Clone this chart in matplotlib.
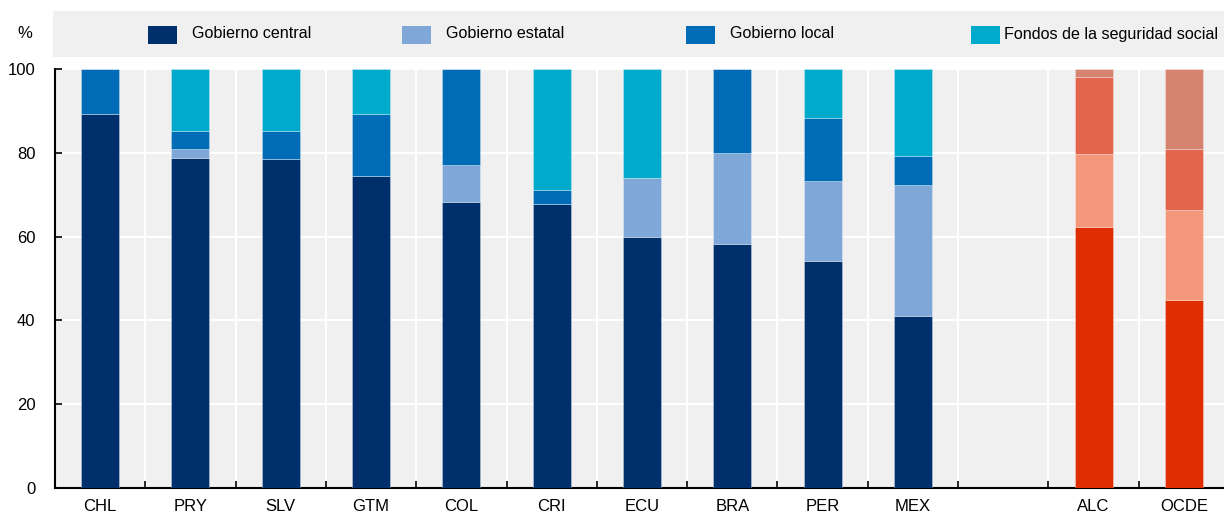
import matplotlib
matplotlib.use("Agg")
import matplotlib.pyplot as plt
from matplotlib.patches import Rectangle
import numpy as np

plt.rcParams['font.family'] = ['Liberation Sans Narrow', 'Liberation Sans', 'DejaVu Sans']

categories = ["CHL", "PRY", "SLV", "GTM", "COL", "CRI", "ECU", "BRA", "PER", "MEX", "", "ALC", "OCDE"]
series_names = ["Gobierno central", "Gobierno estatal", "Gobierno local", "Fondos de la seguridad social"]
central = [89.3, 78.8, 78.6, 74.5, 68.3, 67.8, 59.9, 58.2, 54.2, 41.1, 0, 62.3, 44.9]
estatal = [0.0, 2.1, 0.0, 0.0, 8.8, 0.0, 14.1, 21.8, 19.1, 31.2, 0, 17.4, 21.4]
local = [10.7, 4.3, 6.6, 14.8, 22.9, 3.3, 0.0, 20.0, 15.0, 6.9, 0, 18.4, 14.6]
seguridad = [0.0, 14.8, 14.8, 10.7, 0.0, 28.9, 26.0, 0.0, 11.7, 20.8, 0, 1.9, 19.1]
yticks = [0, 20, 40, 60, 80, 100]

country_colors = ["#00306C", "#7FA8D9", "#006BB6", "#00AACC"]
agg_colors = ["#DE2D00", "#F5977A", "#E3654B", "#D5836F"]
aggregates = {"ALC", "OCDE"}

fig = plt.figure(figsize=(12.24, 5.12), dpi=100)
ax = fig.add_axes([55/1224, 24/512, 1174/1224, 419/512])
ax.set_facecolor("#F0F0F0")

x = np.arange(len(categories))
data = [central, estatal, local, seguridad]
bottom = np.zeros(len(categories))
for k, vals in enumerate(data):
    vals = np.array(vals, dtype=float)
    cols = [agg_colors[k] if c in aggregates else country_colors[k] for c in categories]
    ax.bar(x, vals, width=0.42, bottom=bottom, color=cols, edgecolor=(1, 1, 1, 0.35),
           linewidth=0.6, zorder=3)
    bottom += vals

ax.set_xlim(-0.5, len(categories) - 0.5)
ax.set_ylim(0, 100)
ax.set_xticks(x)
ax.set_xticklabels(categories, fontsize=12)
ax.set_xticks(np.arange(-0.5, len(categories), 1.0), minor=True)
ax.tick_params(axis='x', which='major', length=0, pad=8)
ax.tick_params(axis='x', which='minor', direction='in', length=5, width=1.2, color='black')
ax.set_yticks(yticks)
ax.set_yticklabels([str(v) for v in yticks], fontsize=12)
ax.tick_params(axis='y', direction='in', length=5, width=1.2, pad=14)
ax.grid(axis='x', which='minor', color='white', linewidth=1.5, zorder=1)
ax.grid(axis='y', which='major', color='white', linewidth=1.5, zorder=1)
ax.set_axisbelow(True)
for s in ["top", "right"]:
    ax.spines[s].set_visible(False)
for s in ["left", "bottom"]:
    ax.spines[s].set_color("black")
    ax.spines[s].set_linewidth(1.5)

# Legend band
W, H = 1224, 512
fig.patches.append(Rectangle((53/W, (H-57)/H), (W-53)/W, 46/H, transform=fig.transFigure,
                             facecolor="#F0F0F0", edgecolor="none", zorder=0))
patch_x = [148, 402, 686, 971]
text_x = [192, 446, 730, 1004]
for k in range(4):
    fig.patches.append(Rectangle((patch_x[k]/W, (H-44)/H), 29/W, 18/H, transform=fig.transFigure,
                                 facecolor=country_colors[k], edgecolor="none", zorder=1))
    fig.text(text_x[k]/W, (H-34)/H, series_names[k], fontsize=11.6, va='center', ha='left')
fig.text(25/W, (H-33)/H, "%", fontsize=12, va='center', ha='center')

fig.savefig("out.png", dpi=100)
